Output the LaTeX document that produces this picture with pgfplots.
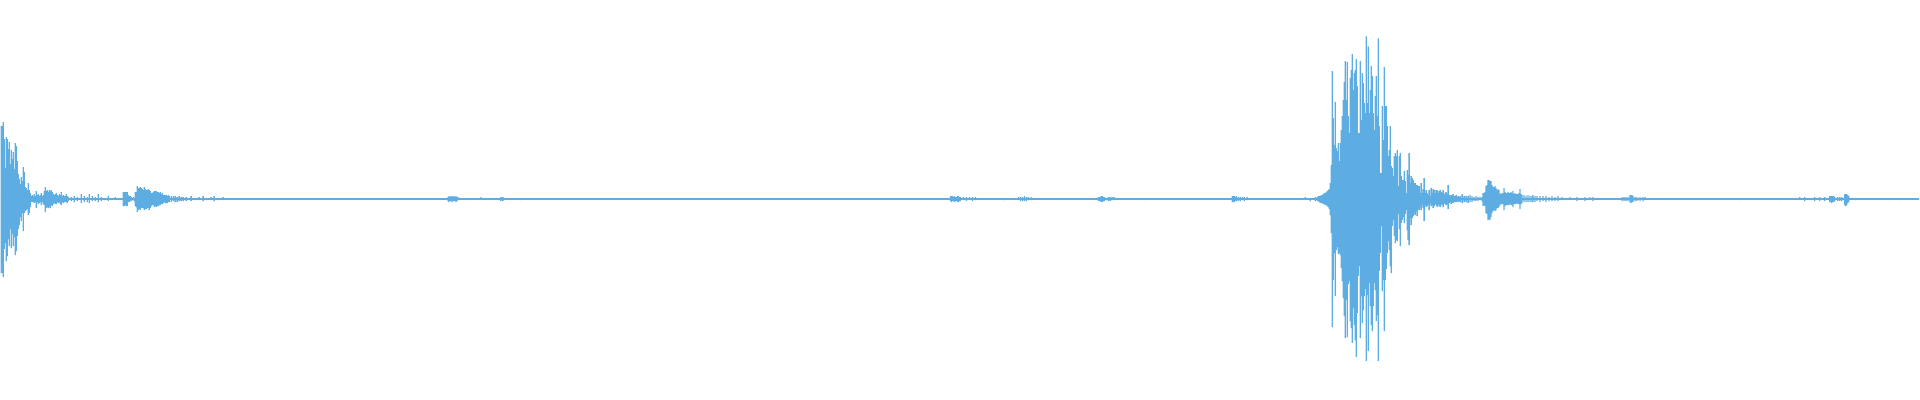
\documentclass[border=0pt]{standalone}
\usepackage{pgfplots}
\usepackage{pgfplotstable}
\pgfplotsset{compat=1.18}
\definecolor{wave}{RGB}{93,173,226}
% per pixel column: peak above (up) and below (dn) the centre line
\pgfplotstableread{
x up dn
0 73 74
1 73 74
2 77 78
3 60 50
4 31 44
5 62 62
6 60 57
7 50 40
8 57 47
9 35 30
10 49 49
11 40 35
12 47 47
13 30 38
14 56 56
15 53 52
16 38 37
17 25 30
18 20 26
19 15 18
20 22 22
21 18 14
22 32 32
23 27 14
24 12 12
25 11 11
26 9 10
27 16 16
28 9 14
29 6 8
30 3 3
31 4 3
32 3 3
33 5 4
34 3 3
35 8 9
36 4 3
37 5 5
38 3 4
39 4 3
40 6 6
41 3 3
42 4 5
43 8 6
44 12 13
45 8 9
46 9 8
47 7 9
48 9 8
49 8 9
50 9 6
51 7 7
52 5 5
53 4 4
54 5 5
55 6 5
56 4 3
57 3 4
58 5 3
59 4 5
60 7 6
61 3 3
62 4 4
63 3 3
64 3 3
65 5 3
66 3 4
67 2 2
70 2 2
73 3 3
76 2 2
80 5 4
83 3 3
86 2 3
88 5 4
91 3 2
94 2 2
97 5 3
100 2 2
103 1 1
107 3 2
110 1 1
114 2 1
118 1 1
122 7 7
123 7 7
124 7 6
125 7 7
126 7 7
127 4 3
128 3 3
129 3 2
130 2 2
131 1 1
132 2 1
133 1 2
134 7 7
135 7 8
136 13 13
137 11 11
138 11 10
139 12 11
140 11 9
141 10 9
142 9 9
143 12 11
144 10 10
145 9 10
146 9 9
147 10 9
148 9 11
149 8 9
150 6 7
151 6 6
152 7 6
153 8 8
154 8 7
155 8 8
156 7 7
157 7 7
158 6 6
159 7 6
160 5 5
161 6 5
162 4 4
163 4 3
164 4 4
165 4 4
166 3 4
167 4 3
168 3 3
170 3 3
172 3 2
174 3 3
176 2 3
178 3 2
180 2 2
182 2 2
185 2 2
188 1 1
190 3 2
194 1 1
198 2 1
202 3 2
206 1 1
210 2 1
213 3 2
217 1 1
222 2 1
447 2 2
448 3 3
449 2 2
450 3 2
451 3 3
452 2 2
453 3 2
454 2 2
455 3 3
456 2 2
457 2 1
465 1 1
470 1 1
480 2 1
500 2 2
502 2 2
510 1 1
520 1 1
920 1 1
950 3 2
951 3 3
952 3 2
953 2 2
954 3 3
955 2 2
956 2 2
957 3 3
958 3 3
959 2 2
960 2 2
963 2 1
966 2 2
969 2 1
972 2 2
975 2 1
1002 1 1
1004 1 1
1018 2 1
1020 2 2
1022 2 2
1024 3 2
1026 2 2
1028 2 1
1031 2 1
1098 2 2
1099 2 2
1100 2 2
1101 3 3
1102 3 3
1103 2 2
1104 2 2
1106 1 1
1108 2 2
1110 2 2
1112 2 1
1114 2 1
1145 1 1
1160 1 1
1232 3 3
1233 3 3
1234 3 3
1235 2 2
1236 3 2
1238 2 2
1240 2 2
1242 2 1
1244 2 2
1247 2 1
1300 1 1
1305 2 1
1310 1 2
1315 2 2
1317 2 2
1318 3 2
1319 3 3
1320 3 4
1321 4 4
1322 4 4
1323 5 5
1324 6 5
1325 6 6
1326 7 6
1327 8 7
1328 9 8
1329 10 10
1330 16 16
1331 34 34
1332 128 128
1333 81 81
1334 54 54
1335 97 97
1336 51 51
1337 48 48
1338 56 55
1339 38 54
1340 56 56
1341 69 69
1342 83 82
1343 99 99
1344 117 117
1345 138 139
1346 99 101
1347 137 138
1348 83 85
1349 66 82
1350 121 122
1351 129 129
1352 145 144
1353 109 109
1354 126 126
1355 129 141
1356 140 158
1357 113 114
1358 66 77
1359 66 67
1360 138 139
1361 79 97
1362 126 124
1363 116 111
1364 96 97
1365 86 90
1366 163 162
1367 96 96
1368 153 152
1369 86 84
1370 109 107
1371 133 126
1372 123 132
1373 86 107
1374 69 84
1375 103 91
1376 123 122
1377 83 116
1378 161 162
1379 73 72
1380 26 54
1381 26 27
1382 93 92
1383 59 81
1384 132 132
1385 93 81
1386 93 70
1387 73 54
1388 43 42
1389 49 51
1390 73 67
1391 33 74
1392 31 27
1393 23 21
1394 43 37
1395 46 44
1396 43 41
1397 49 42
1398 13 15
1399 43 30
1400 46 47
1401 23 24
1402 19 21
1403 19 18
1404 28 24
1405 18 15
1406 6 11
1407 29 31
1408 24 41
1409 46 46
1410 16 19
1411 23 26
1412 21 19
1413 19 17
1414 16 14
1415 16 16
1416 14 12
1417 14 17
1418 13 10
1419 13 11
1420 6 8
1421 16 11
1422 6 6
1423 10 9
1424 21 22
1425 6 6
1426 9 8
1427 6 7
1428 4 5
1429 9 11
1430 3 4
1431 11 7
1432 6 6
1433 10 9
1434 9 7
1435 6 5
1436 9 6
1437 9 8
1438 6 5
1439 8 7
1440 9 8
1441 7 6
1442 6 5
1443 9 8
1444 4 4
1445 6 5
1446 7 6
1447 5 5
1448 14 10
1449 4 4
1450 3 3
1451 4 5
1452 4 4
1453 5 4
1454 3 3
1455 3 3
1456 4 3
1457 2 2
1458 3 3
1459 2 2
1460 3 3
1462 5 4
1464 3 3
1466 3 3
1468 3 4
1470 4 3
1472 3 3
1474 2 2
1476 3 2
1478 2 2
1480 2 1
1482 2 2
1483 6 7
1484 6 6
1485 7 7
1486 13 14
1487 14 15
1488 19 21
1489 19 20
1490 18 21
1491 18 18
1492 14 14
1493 12 12
1494 12 11
1495 13 12
1496 11 11
1497 9 9
1498 10 9
1499 9 8
1500 5 6
1501 6 5
1502 5 5
1503 6 5
1504 11 11
1505 7 7
1506 6 6
1507 6 6
1508 7 6
1509 6 6
1510 6 5
1511 7 6
1512 6 6
1513 8 8
1514 5 5
1515 6 5
1516 5 5
1517 5 4
1518 5 5
1519 6 5
1520 10 10
1521 5 5
1522 4 4
1524 4 3
1526 3 3
1528 4 3
1530 3 3
1532 3 3
1533 4 3
1535 3 3
1537 3 2
1540 3 3
1543 3 2
1546 3 3
1549 2 2
1552 3 2
1555 2 2
1558 3 2
1562 2 1
1566 1 1
1570 2 1
1577 2 2
1585 2 2
1590 2 1
1593 2 2
1600 1 1
1610 1 1
1622 2 2
1624 2 2
1626 2 2
1628 2 2
1630 4 3
1631 4 4
1632 4 3
1633 3 3
1635 2 2
1637 2 2
1640 2 2
1643 2 2
1645 2 1
1660 1 1
1680 1 1
1700 1 1
1720 1 1
1740 1 1
1760 1 1
1780 1 1
1800 2 1
1805 2 2
1810 1 1
1815 2 2
1820 2 2
1825 2 2
1830 3 3
1831 3 3
1832 3 4
1833 3 3
1834 3 3
1835 2 2
1838 2 2
1840 2 2
1842 2 2
1845 5 6
1846 5 7
1847 5 6
1848 4 4
1849 3 3
1856 1 1
1890 1 1
1900 1 1
}\wavedata
\begin{document}
\begin{tikzpicture}
\begin{axis}[width=19.2cm, height=4cm, scale only axis, hide axis,
  xmin=-0.5, xmax=1919.5, ymin=-200.7, ymax=199.3, clip=false]
  \path (rel axis cs:0,0) rectangle (rel axis cs:1,1);
  \addplot[wave, line width=0.45pt] coordinates {(-0.5,0) (1919.5,0)};
  \addplot[ybar, bar width=1.3, bar shift=0pt, fill=wave, draw=none]
    table[x=x, y=up] {\wavedata};
  \addplot[ybar, bar width=1.3, bar shift=0pt, fill=wave, draw=none]
    table[x=x, y expr=-\thisrow{dn}] {\wavedata};
\end{axis}
\end{tikzpicture}
\end{document}
